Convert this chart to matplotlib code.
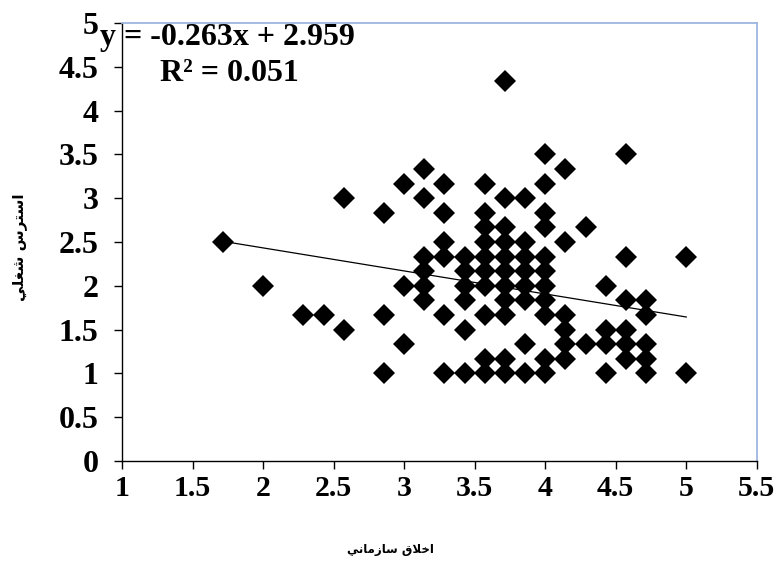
import matplotlib
matplotlib.use("Agg")
import matplotlib.pyplot as plt
import numpy as np

# ---- data ----
x_vals = [1.714, 2.0, 2.286, 2.429, 2.571, 2.571,
          2.857, 2.857, 2.857,
          3.0, 3.0, 3.0,
          3.143, 3.143, 3.143, 3.143, 3.143, 3.143,
          3.286, 3.286, 3.286, 3.286, 3.286, 3.286,
          3.429, 3.429, 3.429, 3.429, 3.429, 3.429,
          3.571, 3.571, 3.571, 3.571, 3.571, 3.571, 3.571, 3.571, 3.571, 3.571,
          3.714, 3.714, 3.714, 3.714, 3.714, 3.714, 3.714, 3.714, 3.714, 3.714, 3.714,
          3.857, 3.857, 3.857, 3.857, 3.857, 3.857, 3.857, 3.857,
          4.0, 4.0, 4.0, 4.0, 4.0, 4.0, 4.0, 4.0, 4.0, 4.0, 4.0,
          4.143, 4.143, 4.143, 4.143, 4.143, 4.143,
          4.286, 4.286,
          4.429, 4.429, 4.429, 4.429,
          4.571, 4.571, 4.571, 4.571, 4.571, 4.571,
          4.714, 4.714, 4.714, 4.714, 4.714,
          5.0, 5.0]
y_vals = [2.5, 2.0, 1.667, 1.667, 3.0, 1.5,
          2.833, 1.667, 1.0,
          3.167, 2.0, 1.333,
          3.333, 3.0, 2.333, 2.167, 2.0, 1.833,
          3.167, 2.833, 2.5, 2.333, 1.667, 1.0,
          2.333, 2.167, 2.0, 1.833, 1.5, 1.0,
          3.167, 2.833, 2.667, 2.5, 2.333, 2.167, 2.0, 1.667, 1.167, 1.0,
          4.333, 3.0, 2.667, 2.5, 2.333, 2.167, 2.0, 1.833, 1.667, 1.167, 1.0,
          3.0, 2.5, 2.333, 2.167, 2.0, 1.833, 1.333, 1.0,
          3.5, 3.167, 2.833, 2.667, 2.333, 2.167, 2.0, 1.833, 1.667, 1.167, 1.0,
          3.333, 2.5, 1.667, 1.5, 1.333, 1.167,
          2.667, 1.333,
          2.0, 1.5, 1.333, 1.0,
          3.5, 2.333, 1.833, 1.5, 1.333, 1.167,
          1.833, 1.667, 1.333, 1.167, 1.0,
          2.333, 1.0]

slope = -0.263
intercept = 2.959
r_squared = 0.051

x_ticks = [1, 1.5, 2, 2.5, 3, 3.5, 4, 4.5, 5, 5.5]
x_tick_labels = ["1", "1.5", "2", "2.5", "3", "3.5", "4", "4.5", "5", "5.5"]
y_ticks = [0, 0.5, 1, 1.5, 2, 2.5, 3, 3.5, 4, 4.5, 5]
y_tick_labels = ["0", "0.5", "1", "1.5", "2", "2.5", "3", "3.5", "4", "4.5", "5"]

# Persian labels (pre-shaped presentation forms, visual order)
x_label = "\uFEF2\uFEE7\uFE8E\uFEE3\uFEAF\uFE8E\uFEB3 \uFED5\uFEFC\uFEA7\uFE8D"   # اخلاق سازمانی
y_label = "\uFEF2\uFEE0\uFED0\uFEB7 \uFEB1\uFEAE\uFE98\uFEB3\uFE8D"                # استرس شغلی

serif = "Liberation Serif"
fs = 23

fig = plt.figure(figsize=(7.77, 5.68), dpi=100)
ax = fig.add_axes([0.157, 0.1884, 0.817, 0.771])

ax.plot(x_vals, y_vals, linestyle="none", marker="D", markersize=11.3,
        color="black", markeredgewidth=0)

xl = np.array([min(x_vals), max(x_vals)])
ax.plot(xl, slope * xl + intercept, color="black", linewidth=0.9)

ax.set_xlim(1, 5.5)
ax.set_ylim(0, 5)
ax.set_xticks(x_ticks)
ax.set_xticklabels(x_tick_labels, fontfamily=serif, fontweight="bold", fontsize=21.5)
ax.set_yticks(y_ticks)
ax.set_yticklabels(y_tick_labels, fontfamily=serif, fontweight="bold", fontsize=fs)
ax.tick_params(axis="x", direction="out", length=6, width=1, pad=4)
ax.tick_params(axis="y", direction="out", length=6, width=1, pad=11)

for s in ["left", "bottom"]:
    ax.spines[s].set_color("black")
    ax.spines[s].set_linewidth(1.0)
for s in ["top", "right"]:
    ax.spines[s].set_color("#9DB5E0")
    ax.spines[s].set_linewidth(1.3)

fig.text(100 / 777, 1 - 38 / 568, "y = %.3fx + %.3f" % (slope, intercept),
         fontfamily=serif, fontweight="bold", fontsize=fs, ha="left", va="center")
fig.text(160 / 777, 1 - 74 / 568, "R\u00b2 = %.3f" % r_squared,
         fontfamily=serif, fontweight="bold", fontsize=fs, ha="left", va="center")

fig.text(390 / 777, 1 - 549 / 568, x_label, fontfamily=["DejaVu Sans"],
         fontweight="bold", fontsize=8.5, ha="center", va="center")
fig.text(20 / 777, 1 - 247 / 568, y_label, fontfamily=["DejaVu Sans"],
         fontweight="bold", fontsize=11, ha="center", va="center", rotation=90)

fig.savefig("out.png", dpi=100)
